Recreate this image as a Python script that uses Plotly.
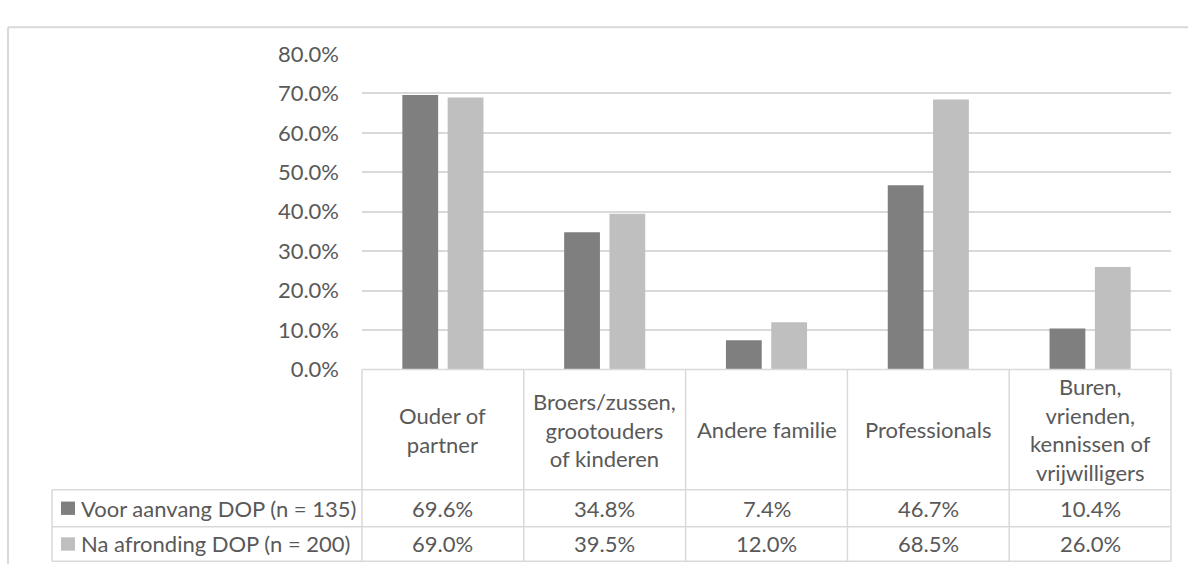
import plotly.graph_objects as go

# Data
categories = ["Ouder of partner", "Broers/zussen, grootouders of kinderen",
              "Andere familie", "Professionals",
              "Buren, vrienden, kennissen of vrijwilligers"]
header_labels = ["Ouder of<br>partner", "Broers/zussen,<br>grootouders<br>of kinderen",
                 "Andere familie", "Professionals",
                 "Buren,<br>vrienden,<br>kennissen of<br>vrijwilligers"]
series_names = ["Voor aanvang DOP (n = 135)", "Na afronding DOP (n = 200)"]
voor_values = [69.6, 34.8, 7.4, 46.7, 10.4]
na_values = [69.0, 39.5, 12.0, 68.5, 26.0]
y_ticks = [0, 10, 20, 30, 40, 50, 60, 70, 80]

W, H = 1188, 577
FONT = "Lato"
FS = 22
TXT = "#595959"
LINE = "#d9d9d9"
colors = ["#7f7f7f", "#bfbfbf"]


def fx(px):
    return px / W


def fy(py):
    return 1 - py / H


# plot area in pixels
X0, X1 = 362, 1171
Y_TOP, Y_BASE = 42, 373
ROW_TOP, ROW_MID, ROW_BOT = 499, 538, 574
TABLE_LEFT = 52

fig = go.Figure()
for name, vals, col in zip(series_names, [voor_values, na_values], colors):
    fig.add_trace(go.Bar(x=categories, y=vals, name=name, marker_color=col,
                         marker_line_width=0, showlegend=False))

shapes = []
# chart frame (left and top edges)
shapes.append(dict(type="line", xref="paper", yref="paper", x0=fx(8), x1=fx(8),
                   y0=fy(14), y1=0, line=dict(color=LINE, width=2)))
shapes.append(dict(type="line", xref="paper", yref="paper", x0=fx(8), x1=1,
                   y0=fy(14), y1=fy(14), line=dict(color=LINE, width=2)))

# data table: horizontal lines
shapes.append(dict(type="line", xref="paper", yref="paper", x0=fx(X0), x1=fx(X1),
                   y0=fy(Y_BASE), y1=fy(Y_BASE), line=dict(color=LINE, width=1.5)))
for yy in (ROW_TOP, ROW_MID, ROW_BOT):
    shapes.append(dict(type="line", xref="paper", yref="paper", x0=fx(TABLE_LEFT), x1=fx(X1),
                       y0=fy(yy), y1=fy(yy), line=dict(color=LINE, width=1.5)))
# vertical lines
cw = (X1 - X0) / len(categories)
for i in range(len(categories) + 1):
    xx = X0 + i * cw
    shapes.append(dict(type="line", xref="paper", yref="paper", x0=fx(xx), x1=fx(xx),
                       y0=fy(Y_BASE), y1=fy(ROW_BOT), line=dict(color=LINE, width=1.5)))
shapes.append(dict(type="line", xref="paper", yref="paper", x0=fx(TABLE_LEFT), x1=fx(TABLE_LEFT),
                   y0=fy(ROW_TOP), y1=fy(ROW_BOT), line=dict(color=LINE, width=1.5)))

annotations = []
# category headers
for cat, lab in zip(categories, header_labels):
    annotations.append(dict(x=cat, xref="x", y=fy((Y_BASE + ROW_TOP) / 2), yref="paper",
                            text=lab, showarrow=False, xanchor="center", yanchor="middle",
                            align="center", font=dict(family=FONT, size=FS, color=TXT)))

# series rows
row_centers = [(ROW_TOP + ROW_MID) / 2, (ROW_MID + ROW_BOT) / 2]
for name, vals, col, yc in zip(series_names, [voor_values, na_values], colors, row_centers):
    shapes.append(dict(type="rect", xref="paper", yref="paper", x0=fx(61), x1=fx(75),
                       y0=fy(yc + 7), y1=fy(yc - 7), fillcolor=col, line=dict(width=0)))
    annotations.append(dict(x=fx(79), xref="paper", y=fy(yc), yref="paper", text=name,
                            showarrow=False, xanchor="left", yanchor="middle",
                            font=dict(family=FONT, size=FS, color=TXT)))
    for cat, v in zip(categories, vals):
        annotations.append(dict(x=cat, xref="x", y=fy(yc), yref="paper", text=f"{v:.1f}%",
                                showarrow=False, xanchor="center", yanchor="middle",
                                font=dict(family=FONT, size=FS, color=TXT)))

fig.update_layout(
    width=W, height=H,
    margin=dict(l=0, r=0, t=0, b=0),
    paper_bgcolor="white", plot_bgcolor="white",
    barmode="group", bargap=0.44, bargroupgap=0.21,
    font=dict(family=FONT, color=TXT, size=FS),
    xaxis=dict(domain=[fx(X0), fx(X1)], showticklabels=False, showgrid=False,
               zeroline=False, showline=False, ticks=""),
    yaxis=dict(domain=[fy(Y_BASE), fy(Y_TOP)], range=[0, 80], tickvals=y_ticks,
               ticktext=[f"{t:.1f}%" for t in y_ticks], showgrid=True, gridcolor=LINE,
               gridwidth=1.5, zeroline=False, showline=False, ticks="",
               ticklabelstandoff=22, tickfont=dict(family=FONT, size=FS, color=TXT)),
    shapes=shapes, annotations=annotations,
)

fig.write_html("out.html")
